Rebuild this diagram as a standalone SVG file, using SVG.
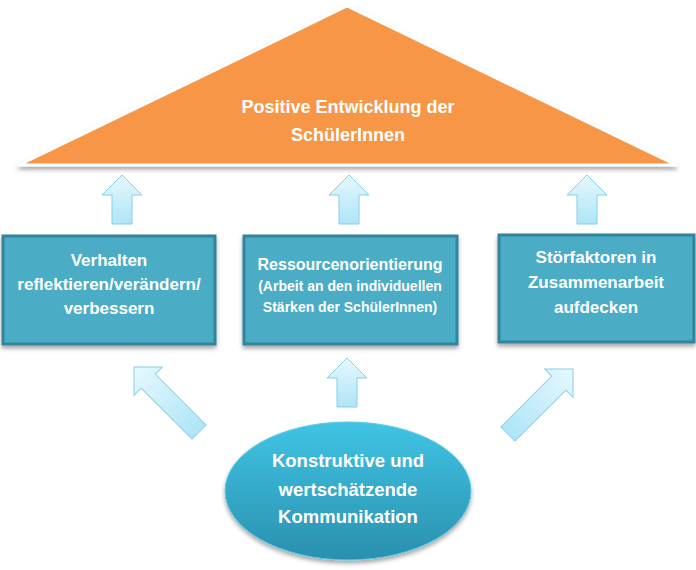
<svg xmlns="http://www.w3.org/2000/svg" width="696" height="570" viewBox="0 0 696 570">
<defs>
<style>
.t{font-family:"Liberation Sans",Arial,sans-serif;font-weight:bold;fill:#fff;text-anchor:middle}
.box{fill:#4BACC6;stroke:#31849B;stroke-width:3}
.arr{fill:url(#ag);stroke:#86CFE8;stroke-width:1}
</style>
<linearGradient id="ag" x1="0" y1="0" x2="0" y2="1">
<stop offset="0" stop-color="#E6F8FE"/>
<stop offset="1" stop-color="#AEE5F7"/>
</linearGradient>
<linearGradient id="eg" x1="0" y1="0" x2="0" y2="1">
<stop offset="0" stop-color="#40C4E4"/>
<stop offset="1" stop-color="#2A90AE"/>
</linearGradient>
<filter id="sh" x="-10%" y="-10%" width="120%" height="130%">
<feDropShadow dx="0" dy="3" stdDeviation="2" flood-color="#000" flood-opacity="0.35"/>
</filter>
<polygon id="upA" points="0,0 20,20 10,20 10,49 -10,49 -10,20 -20,20"/>
<polygon id="diagA" points="0,0 20,20 10,20 10,92 -10,92 -10,20 -20,20"/>
</defs>
<rect width="696" height="570" fill="#fff"/>

<g id="roof">
<polygon points="347,6 676,165 19,165" fill="#F79646" stroke="#fff" stroke-width="3" stroke-linejoin="round" filter="url(#sh)"/>
<text class="t" font-size="18" x="348" y="113">Positive Entwicklung der</text>
<text class="t" font-size="18" x="348" y="141">SchülerInnen</text>
</g>

<g id="connectors">
<use href="#upA" class="arr" transform="translate(122,175)"/>
<use href="#upA" class="arr" transform="translate(349,175)"/>
<use href="#upA" class="arr" transform="translate(587,175)"/>
<use href="#upA" class="arr" transform="translate(347,358)"/>
<use href="#diagA" class="arr" transform="translate(134,367) rotate(-45)"/>
<use href="#diagA" class="arr" transform="translate(573,369) rotate(45)"/>
</g>

<g id="box1">
<rect class="box" x="3" y="236" width="212" height="108" filter="url(#sh)"/>
<text class="t" font-size="17" x="109" y="266">Verhalten</text>
<text class="t" font-size="17" x="109" y="290">reflektieren/verändern/</text>
<text class="t" font-size="17" x="109" y="314">verbessern</text>
</g>

<g id="box2">
<rect class="box" x="244" y="236" width="213" height="108" filter="url(#sh)"/>
<text class="t" font-size="16" x="350" y="270">Ressourcenorientierung</text>
<text class="t" font-size="14" x="350" y="291">(Arbeit an den individuellen</text>
<text class="t" font-size="14" x="350" y="312">Stärken der SchülerInnen)</text>
</g>

<g id="box3">
<rect class="box" x="499" y="235" width="195" height="107" filter="url(#sh)"/>
<text class="t" font-size="17" x="596" y="263">Störfaktoren in</text>
<text class="t" font-size="17" x="596" y="288">Zusammenarbeit</text>
<text class="t" font-size="17" x="596" y="313">aufdecken</text>
</g>

<g id="ellipse">
<ellipse cx="348" cy="491" rx="123" ry="69" fill="url(#eg)" stroke="#5CCBE6" stroke-width="1" filter="url(#sh)"/>
<text class="t" font-size="18.5" x="348" y="467">Konstruktive und</text>
<text class="t" font-size="18.5" x="348" y="496">wertschätzende</text>
<text class="t" font-size="18.5" x="348" y="523">Kommunikation</text>
</g>
</svg>
